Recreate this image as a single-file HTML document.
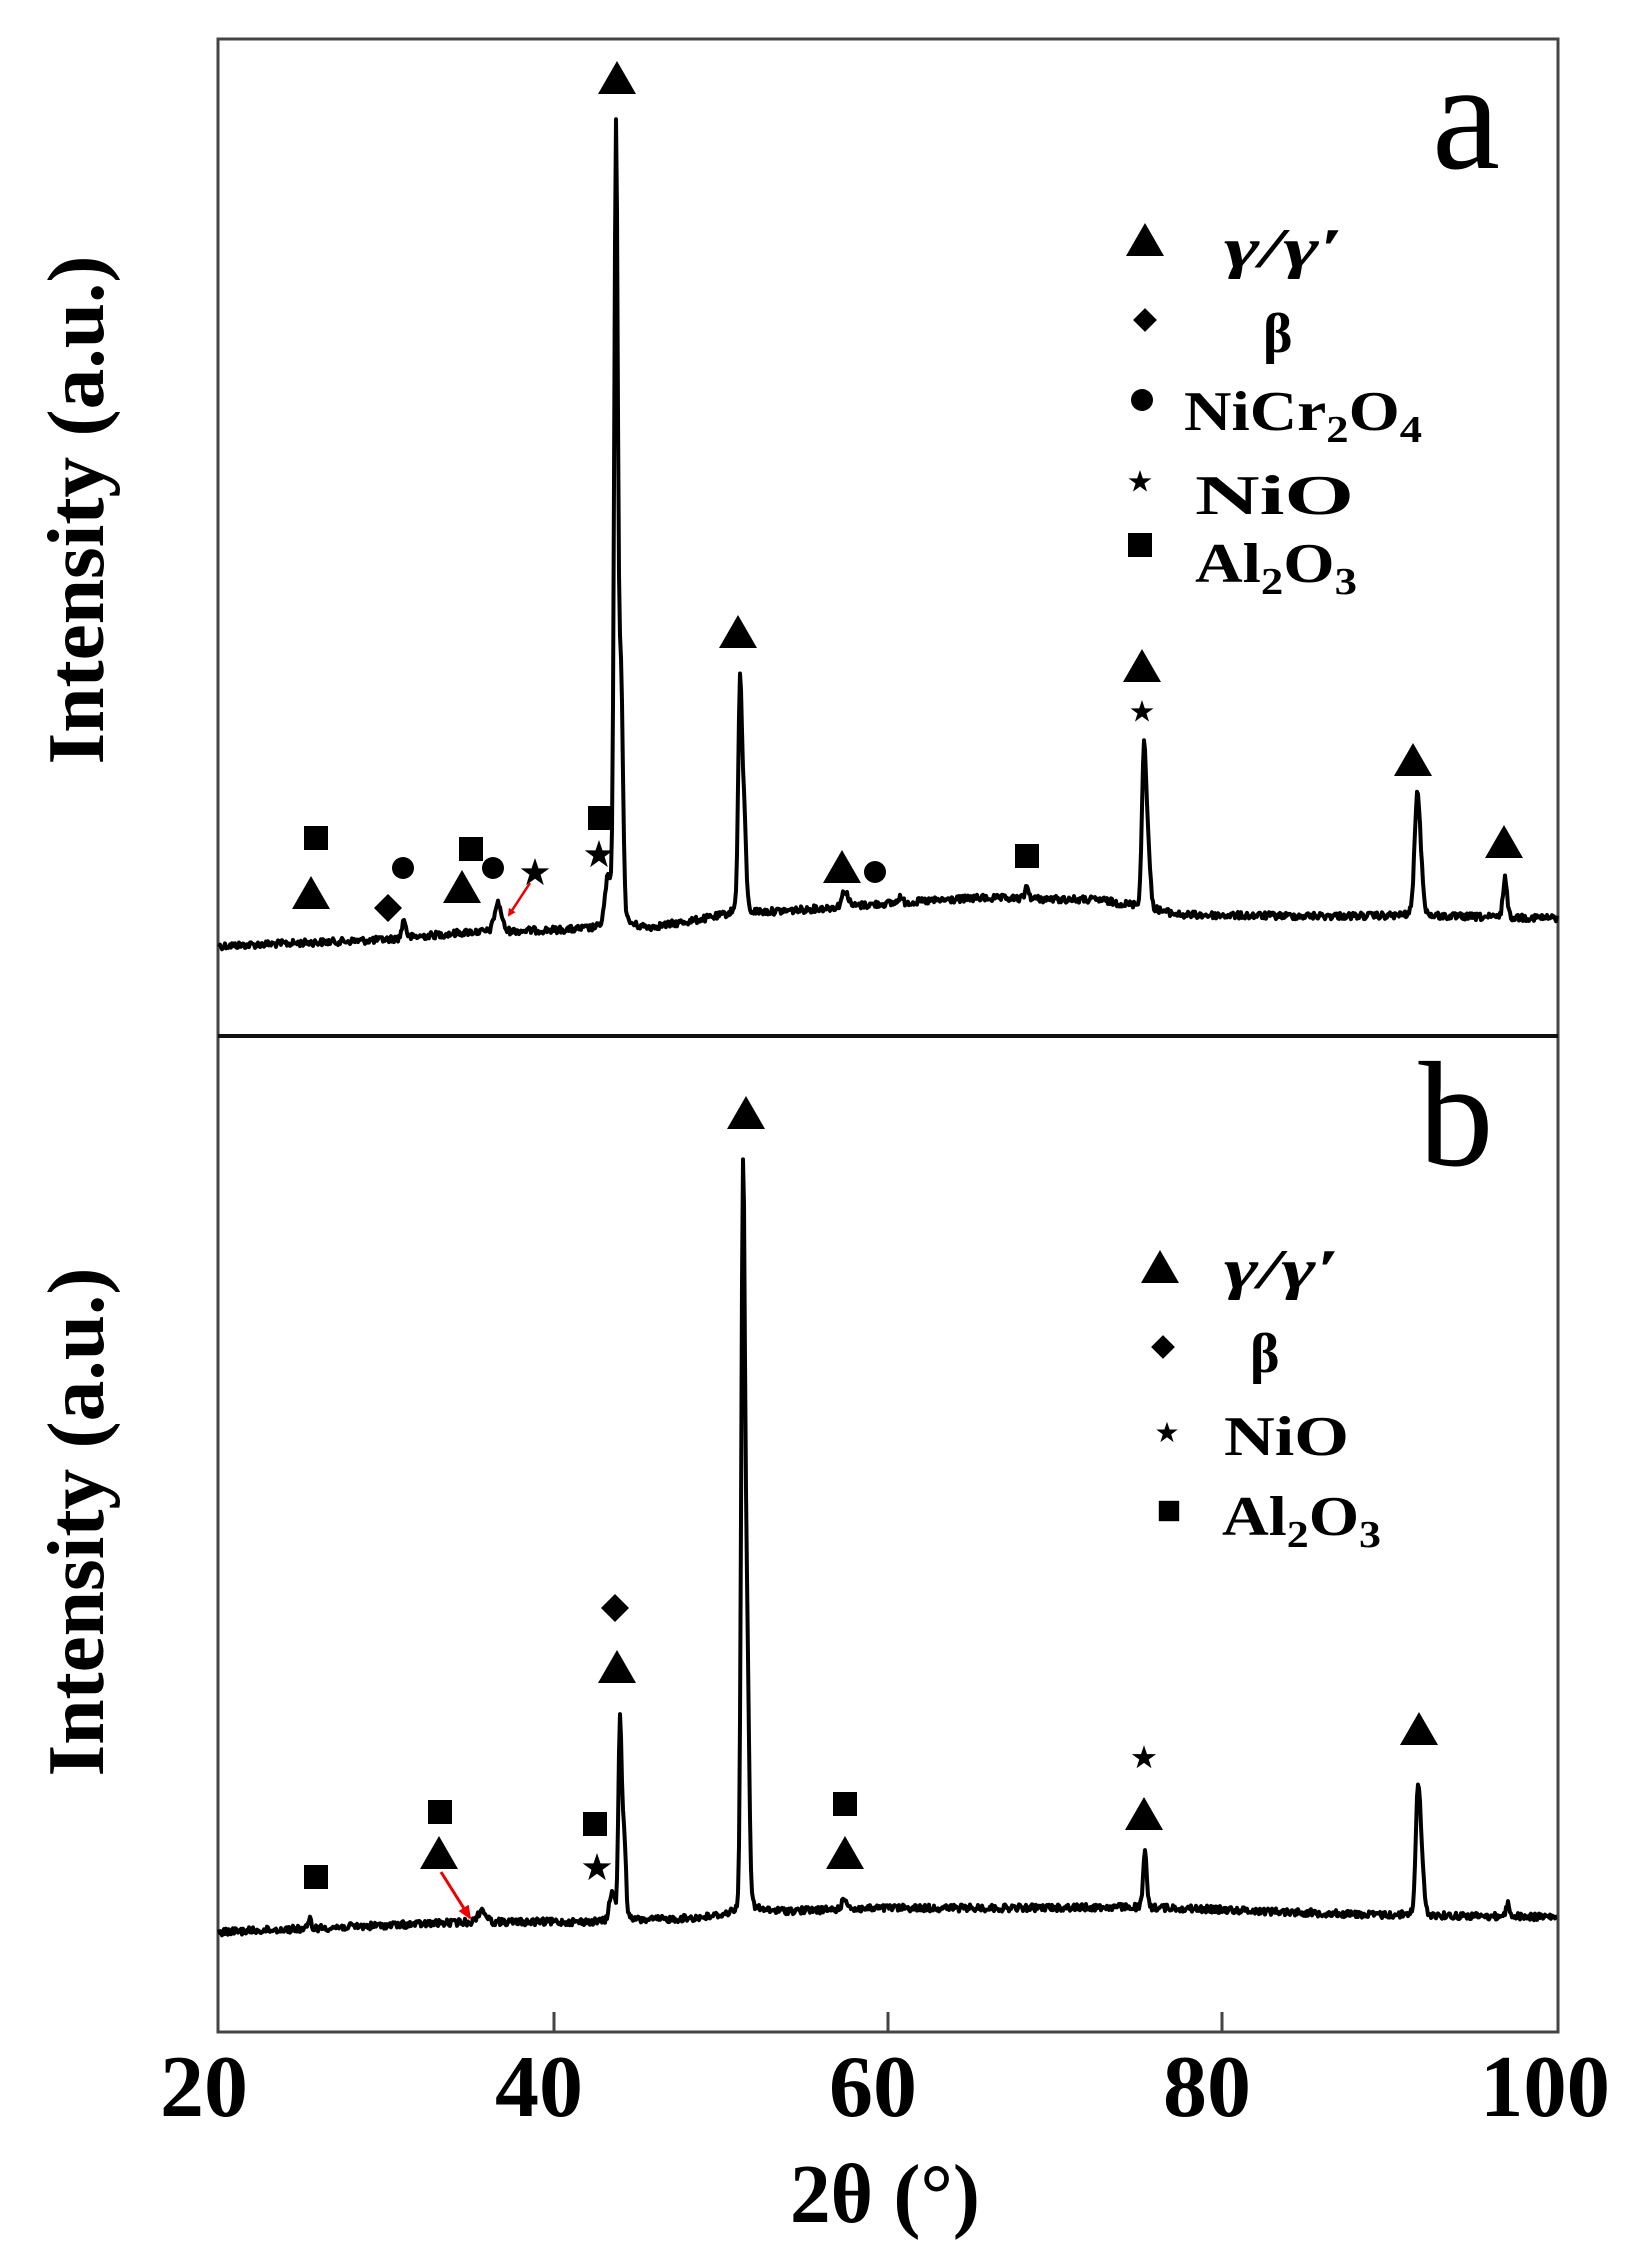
<!DOCTYPE html>
<html><head><meta charset="utf-8"><style>
html,body{margin:0;padding:0;background:#fff;}
svg{display:block;}
text{font-family:"Liberation Serif","Times New Roman",Times,serif;fill:#000;}
</style></head><body>
<svg id="s" width="1647" height="2264" viewBox="0 0 1647 2264" xmlns="http://www.w3.org/2000/svg">
<defs>
<g id="tri"><polygon points="0,-17 19,16 -19,16" fill="#000"/></g>
<g id="sq"><rect x="-12" y="-12" width="24" height="24" fill="#000"/></g>
<g id="dia"><polygon points="0,-14 14,0 0,14 -14,0" fill="#000"/></g>
<g id="cir"><circle r="11" fill="#000"/></g>
<g id="star"><polygon points="0,-15 3.5,-4.6 14.3,-4.6 5.6,1.8 8.8,12.1 0,5.7 -8.8,12.1 -5.6,1.8 -14.3,-4.6 -3.5,-4.6" fill="#000"/></g>
<marker id="ah" markerWidth="8" markerHeight="8" refX="6" refY="4" orient="auto" markerUnits="userSpaceOnUse"><polygon points="0,0 8,4 0,8" fill="#e00"/></marker>
<marker id="ah2" markerWidth="14" markerHeight="12" refX="12" refY="6" orient="auto" markerUnits="userSpaceOnUse"><polygon points="0,0 14,6 0,12" fill="#e00"/></marker>
</defs>
<rect x="218" y="39" width="1340" height="1993" fill="none" stroke="#444" stroke-width="3"/>
<line x1="218" y1="1036" x2="1558" y2="1036" stroke="#111" stroke-width="4"/>
<g stroke="#444" stroke-width="3">
<line x1="554" y1="2032" x2="554" y2="2012"/>
<line x1="888" y1="2032" x2="888" y2="2012"/>
<line x1="1222" y1="2032" x2="1222" y2="2012"/>
</g>
<g font-size="88" font-weight="bold" text-anchor="middle">
<text x="204" y="2116" textLength="88" lengthAdjust="spacingAndGlyphs">20</text>
<text x="539" y="2116" textLength="88" lengthAdjust="spacingAndGlyphs">40</text>
<text x="873" y="2116" textLength="88" lengthAdjust="spacingAndGlyphs">60</text>
<text x="1207" y="2116" textLength="88" lengthAdjust="spacingAndGlyphs">80</text>
<text x="1545" y="2116" textLength="130" lengthAdjust="spacingAndGlyphs">100</text>
</g>
<text x="885" y="2222" font-size="84" font-weight="bold" text-anchor="middle" textLength="190" lengthAdjust="spacingAndGlyphs">2θ (°)</text>
<text transform="translate(103,510) rotate(-90)" font-size="80" font-weight="bold" text-anchor="middle" textLength="509" lengthAdjust="spacingAndGlyphs">Intensity (a.u.)</text>
<text transform="translate(103,1522) rotate(-90)" font-size="80" font-weight="bold" text-anchor="middle" textLength="509" lengthAdjust="spacingAndGlyphs">Intensity (a.u.)</text>
<text x="1466" y="168" font-size="155" text-anchor="middle" textLength="68" lengthAdjust="spacingAndGlyphs">a</text>
<text x="1456" y="1165" font-size="150" text-anchor="middle" textLength="75" lengthAdjust="spacingAndGlyphs">b</text>

<path id="pa" fill="none" stroke="#000" stroke-width="4" stroke-linejoin="round"/>
<path id="pb" fill="none" stroke="#000" stroke-width="4" stroke-linejoin="round"/>

<use href="#tri" x="1145" y="240"/>
<use href="#dia" transform="translate(1145,320) scale(0.85)"/>
<use href="#cir" x="1142" y="400"/>
<use href="#star" transform="translate(1140,482) scale(0.8)"/>
<use href="#sq" x="1140" y="545"/>
<g font-size="56" font-weight="bold">
<text x="1224" y="267" font-style="italic" textLength="119" lengthAdjust="spacingAndGlyphs">γ/γ′</text>
<text x="1263" y="352">β</text>
<text x="1184" y="430" textLength="238" lengthAdjust="spacingAndGlyphs">NiCr<tspan font-size="38" dy="12">2</tspan><tspan dy="-12">O</tspan><tspan font-size="38" dy="12">4</tspan></text>
<text x="1195" y="514" textLength="159" lengthAdjust="spacingAndGlyphs">NiO</text>
<text x="1195" y="582" textLength="162" lengthAdjust="spacingAndGlyphs">Al<tspan font-size="38" dy="12">2</tspan><tspan dy="-12">O</tspan><tspan font-size="38" dy="12">3</tspan></text>
</g>
<use href="#tri" x="1160" y="1267"/>
<use href="#dia" transform="translate(1163,1347) scale(0.85)"/>
<use href="#star" transform="translate(1167,1433) scale(0.75)"/>
<use href="#sq" transform="translate(1169,1511) scale(0.85)"/>
<g font-size="56" font-weight="bold">
<text x="1224" y="1288" font-style="italic" textLength="115" lengthAdjust="spacingAndGlyphs">γ/γ′</text>
<text x="1250" y="1372">β</text>
<text x="1224" y="1455" textLength="125" lengthAdjust="spacingAndGlyphs">NiO</text>
<text x="1222" y="1535" textLength="159" lengthAdjust="spacingAndGlyphs">Al<tspan font-size="38" dy="12">2</tspan><tspan dy="-12">O</tspan><tspan font-size="38" dy="12">3</tspan></text>
</g>

<use href="#tri" x="617" y="78"/>
<use href="#tri" x="738" y="632"/>
<use href="#sq" x="316" y="838"/>
<use href="#tri" x="311" y="893"/>
<use href="#cir" x="403" y="868"/>
<use href="#dia" x="388" y="908"/>
<use href="#sq" x="471" y="849"/>
<use href="#tri" x="462" y="887"/>
<use href="#cir" x="493" y="868"/>
<use href="#star" x="535" y="873"/>
<line x1="530" y1="883" x2="509" y2="915" stroke="#e00" stroke-width="2.5" marker-end="url(#ah)"/>
<use href="#sq" x="600" y="818"/>
<use href="#star" x="599" y="855"/>
<use href="#tri" x="842" y="867"/>
<use href="#cir" x="875" y="872"/>
<use href="#sq" x="1027" y="856"/>
<use href="#tri" x="1142" y="666"/>
<use href="#star" transform="translate(1142,712) scale(0.8)"/>
<use href="#tri" x="1413" y="760"/>
<use href="#tri" x="1504" y="842"/>

<use href="#tri" x="746" y="1113"/>
<use href="#dia" x="615" y="1608"/>
<use href="#tri" x="617" y="1667"/>
<use href="#sq" x="316" y="1877"/>
<use href="#sq" x="440" y="1812"/>
<use href="#tri" x="439" y="1853"/>
<line x1="441" y1="1872" x2="470" y2="1918" stroke="#e00" stroke-width="3" marker-end="url(#ah2)"/>
<use href="#sq" x="595" y="1824"/>
<use href="#star" x="597" y="1868"/>
<use href="#sq" x="845" y="1804"/>
<use href="#tri" x="845" y="1853"/>
<use href="#star" transform="translate(1144,1758) scale(0.85)"/>
<use href="#tri" x="1144" y="1814"/>
<use href="#tri" x="1419" y="1729"/>
</svg>
<script>
(function(){
var seed=12345;function rnd(){seed=(seed*1103515245+12345)%2147483648;return seed/2147483648;}
function interp(pts,x){for(var i=0;i<pts.length-1;i++){if(x>=pts[i][0]&&x<=pts[i+1][0]){var t=(x-pts[i][0])/(pts[i+1][0]-pts[i][0]);return pts[i][1]+t*(pts[i+1][1]-pts[i][1]);}}return pts[pts.length-1][1];}
function build(base,peaks){var d="";for(var x=219;x<=1557;x+=1){var y=interp(base,x);for(var k=0;k<peaks.length;k++){var p=peaks[k],dx=x-p[0],w=p[2];if(p[3]){y-=p[1]*w*w/(dx*dx+w*w);}else{y-=p[1]*Math.exp(-dx*dx/(2*w*w));}}y+=(rnd()-0.5)*7;d+=(x==219?"M":"L")+x+","+y.toFixed(1);}return d;}
var baseA=[[218,946],[380,940],[470,932],[560,930],[650,928],[735,914],[800,910],[880,904],[980,898],[1100,900],[1180,915],[1300,916],[1400,916],[1558,918]];
var peaksA=[[616,772,1.8],[621,230,2],[618,25,7,1],[740,215,1.8],[744,95,2],[740,10,6,1],[1144,150,2],[1148,55,2.2],[1144,8,6,1],[1417,105,2.5],[1421,35,2.5],[1417,8,6,1],[1505,40,2],[404,18,2],[498,28,3.5],[608,45,3],[845,16,3],[1027,12,2],[900,6,2]];
var baseB=[[218,1932],[470,1922],[600,1922],[700,1918],[760,1912],[890,1908],[1000,1908],[1145,1907],[1379,1915],[1558,1917]];
var peaksB=[[620,190,1.6],[624,85,1.8],[620,8,6,1],[743,705,1.8],[747,260,2],[745,18,7,1],[1145,54,1.8],[1418,120,2.2],[1422,40,2.2],[1418,6,6,1],[482,12,4],[310,10,1.2],[845,10,3],[1508,12,2],[612,28,2.5]];
document.getElementById("pa").setAttribute("d",build(baseA,peaksA));
document.getElementById("pb").setAttribute("d",build(baseB,peaksB));
})();
</script>
</body></html>
